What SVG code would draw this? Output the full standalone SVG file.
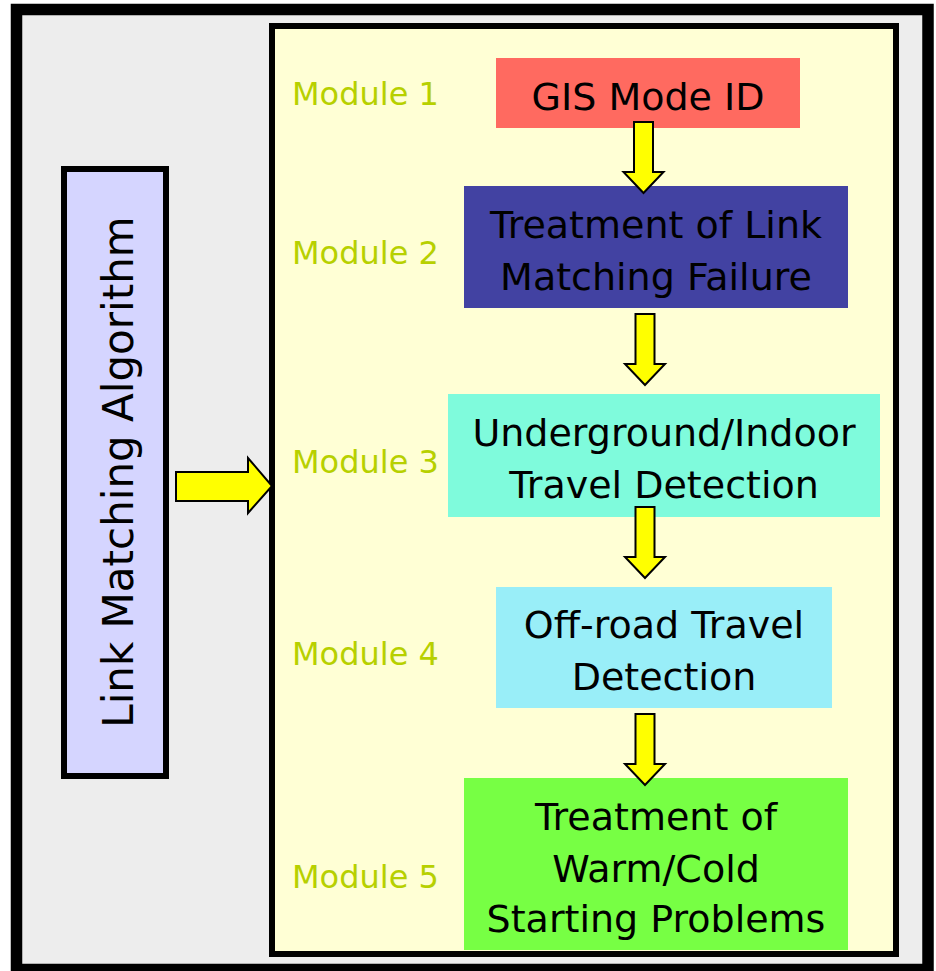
<svg xmlns="http://www.w3.org/2000/svg" width="936" height="971" viewBox="0 0 936 971">
  <style>
    .lbl { font-family: "DejaVu Sans", "Liberation Sans", sans-serif; font-size: 38px; fill: #000; text-anchor: middle; }
    .mod { font-family: "DejaVu Sans", "Liberation Sans", sans-serif; font-size: 32px; fill: #B7D000; }
    .arrow { fill: #FFFF00; stroke: #000; stroke-width: 2; stroke-linejoin: miter; }
  </style>
  <defs>
    <!-- down arrow: shaft 19 wide, head 40 wide, 71 long overall, origin at tip -->
    <polygon id="down" class="arrow" points="-9.5,-71 9.5,-71 9.5,-21 20,-21 0,0 -20,-21 -9.5,-21"/>
  </defs>

  <!-- outer frame -->
  <rect x="16.5" y="9.5" width="911.5" height="960" fill="#EDEDED" stroke="#000" stroke-width="11.5"/>

  <!-- module panel -->
  <g id="panel">
    <rect x="272" y="26" width="624" height="928" fill="#FFFFD5" stroke="#000" stroke-width="6"/>
  </g>

  <!-- algorithm box -->
  <g id="algorithm">
    <rect x="64" y="169" width="102" height="607" fill="#D5D5FF" stroke="#000" stroke-width="6"/>
    <text class="lbl" style="font-size:42px" transform="translate(133,472) rotate(-90)">Link Matching Algorithm</text>
  </g>

  <!-- module labels -->
  <g id="module-labels">
    <text class="mod" x="292" y="105">Module 1</text>
    <text class="mod" x="292" y="264">Module 2</text>
    <text class="mod" x="292" y="473">Module 3</text>
    <text class="mod" x="292" y="665">Module 4</text>
    <text class="mod" x="292" y="888">Module 5</text>
  </g>

  <g id="m1">
    <rect x="496" y="58" width="304" height="70" fill="#FF6A60"/>
    <text class="lbl" x="648" y="110">GIS Mode ID</text>
  </g>
  <g id="m2">
    <rect x="464" y="186" width="384" height="122" fill="#4242A2"/>
    <text class="lbl" x="656" y="238">Treatment of Link</text>
    <text class="lbl" x="656" y="290">Matching Failure</text>
  </g>
  <g id="m3">
    <rect x="448" y="394" width="432" height="123" fill="#7FFBDC"/>
    <text class="lbl" x="664" y="446">Underground/Indoor</text>
    <text class="lbl" x="664" y="498">Travel Detection</text>
  </g>
  <g id="m4">
    <rect x="496" y="587" width="336" height="121" fill="#99EEF8"/>
    <text class="lbl" x="664" y="638">Off-road Travel</text>
    <text class="lbl" x="664" y="690">Detection</text>
  </g>
  <g id="m5">
    <rect x="464" y="778" width="384" height="172" fill="#77FF44"/>
    <text class="lbl" x="656" y="830">Treatment of</text>
    <text class="lbl" x="656" y="882">Warm/Cold</text>
    <text class="lbl" x="656" y="932">Starting Problems</text>
  </g>

  <!-- connectors -->
  <g id="connectors">
    <polygon class="arrow" points="176,472 248,472 248,458 272,486 248,513 248,501 176,501"/>
    <use href="#down" x="643.5" y="193"/>
    <use href="#down" x="645" y="385"/>
    <use href="#down" x="645" y="578"/>
    <use href="#down" x="645" y="785"/>
  </g>
</svg>
